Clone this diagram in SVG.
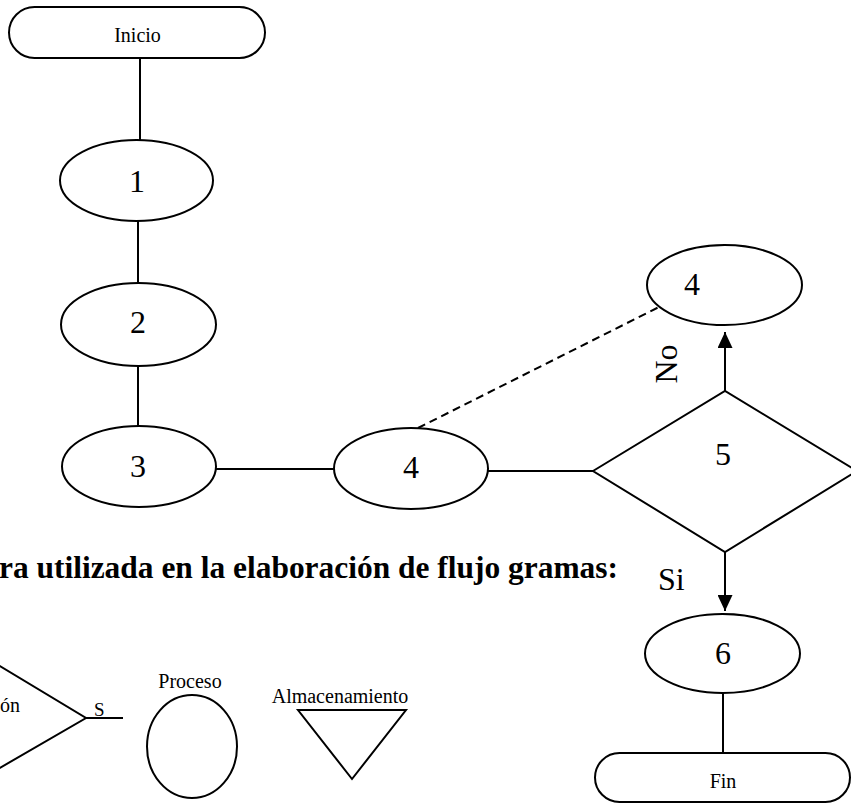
<svg xmlns="http://www.w3.org/2000/svg" width="851" height="804" viewBox="0 0 851 804">
<style>
.s{fill:none;stroke:#000;stroke-width:2}
.w{fill:#fff;stroke:#000;stroke-width:2}
.t{font-family:"Liberation Serif","Times New Roman",serif;fill:#000}
.sm{font-size:20px}
.big{font-size:32px}
.title{font-size:32px;font-weight:bold}
</style>
<defs>
<marker id="arr" viewBox="0 0 16 15" refX="16" refY="7.5" markerWidth="16" markerHeight="15" markerUnits="userSpaceOnUse" orient="auto">
<path d="M0,0 L16,7.5 L0,15 Z" fill="#000"/>
</marker>
</defs>
<rect width="851" height="804" fill="#fff"/>
<g id="connectors">
<line class="s" x1="140" y1="58" x2="140" y2="140"/>
<line class="s" x1="138" y1="221" x2="138" y2="283"/>
<line class="s" x1="138" y1="366" x2="138" y2="426"/>
<line class="s" x1="216" y1="469" x2="334" y2="469"/>
<line class="s" x1="488" y1="471" x2="593" y2="471"/>
<line class="s" x1="418" y1="428" x2="659" y2="307" stroke-dasharray="8,5"/>
<line class="s" x1="725" y1="391" x2="725" y2="332" marker-end="url(#arr)"/>
<line class="s" x1="725" y1="552" x2="725" y2="611" marker-end="url(#arr)"/>
<line class="s" x1="723" y1="693" x2="723" y2="753"/>
<text class="t big" transform="translate(677,364) rotate(-90)" text-anchor="middle">No</text>
<text class="t big" x="658" y="590">Si</text>
</g>
<g id="inicio">
<rect class="w" x="9" y="7" width="256" height="51" rx="25.5"/>
<text class="t sm" x="137.5" y="42" text-anchor="middle">Inicio</text>
</g>
<g id="n1">
<ellipse class="w" cx="136.5" cy="180.5" rx="76.5" ry="40.5"/>
<text class="t big" x="137" y="192" text-anchor="middle">1</text>
</g>
<g id="n2">
<ellipse class="w" cx="138.5" cy="324.5" rx="77.5" ry="41.5"/>
<text class="t big" x="138" y="333" text-anchor="middle">2</text>
</g>
<g id="n3">
<ellipse class="w" cx="139" cy="466.5" rx="77" ry="40.5"/>
<text class="t big" x="138" y="477" text-anchor="middle">3</text>
</g>
<g id="n4">
<ellipse class="w" cx="411" cy="468.5" rx="77" ry="40.5"/>
<text class="t big" x="411" y="478" text-anchor="middle">4</text>
</g>
<g id="n4b">
<ellipse class="w" cx="724.5" cy="285" rx="77.5" ry="40"/>
<text class="t big" x="692" y="295" text-anchor="middle">4</text>
</g>
<g id="n5">
<polygon class="w" points="593,471 725,391 857,471 725,552"/>
<text class="t big" x="723" y="465" text-anchor="middle">5</text>
</g>
<g id="n6">
<ellipse class="w" cx="722.5" cy="653.5" rx="77.5" ry="39.5"/>
<text class="t big" x="723" y="664" text-anchor="middle">6</text>
</g>
<g id="fin">
<rect class="w" x="595" y="753" width="255" height="49" rx="24.5"/>
<text class="t sm" x="723" y="788" text-anchor="middle">Fin</text>
</g>
<g id="title">
<text class="t title" x="-1" y="578" textLength="619" lengthAdjust="spacingAndGlyphs">ra utilizada en la elaboración de flujo gramas:</text>
</g>
<g id="legend-decision">
<polyline class="s" points="-2,665 86,718 -2,769"/>
<line class="s" x1="86" y1="718" x2="123" y2="718"/>
<text class="t sm" x="20" y="712" text-anchor="end">ón</text>
<text class="t" style="font-size:19px" x="94" y="716">S</text>
</g>
<g id="legend-proceso">
<text class="t sm" x="190" y="688" text-anchor="middle">Proceso</text>
<ellipse class="w" cx="192" cy="746.5" rx="45" ry="51.5"/>
</g>
<g id="legend-almacenamiento">
<text class="t sm" x="340" y="703" text-anchor="middle">Almacenamiento</text>
<polygon class="w" points="298,710 406,710 352,779"/>
</g>
</svg>
